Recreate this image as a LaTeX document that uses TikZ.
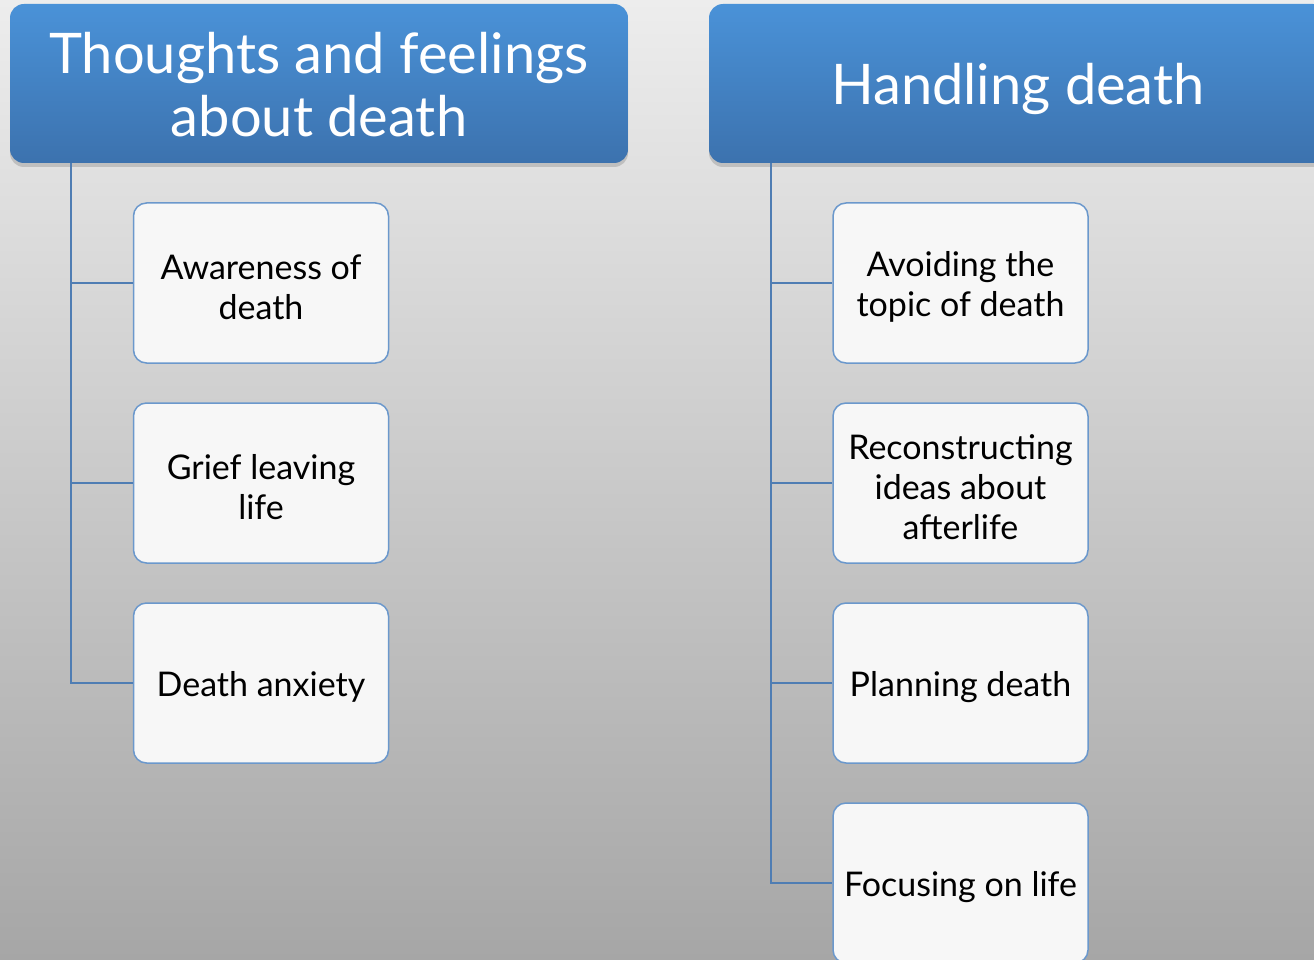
\documentclass[tikz,border=0pt]{standalone}
\usepackage{fontspec}
\setmainfont{Lato}
\usetikzlibrary{shadows}
\definecolor{hdtop}{HTML}{4A92D8}
\definecolor{hdbot}{HTML}{3C72AE}
\definecolor{bxborder}{HTML}{6B98CC}
\definecolor{lnc}{HTML}{4F7DB3}
\definecolor{bgtop}{HTML}{EDEDED}
\definecolor{bgbot}{HTML}{A6A6A6}
\definecolor{bxfill}{HTML}{F7F7F7}
\tikzset{
  header/.style={rounded corners=14pt, top color=hdtop, bottom color=hdbot, draw=none,
    minimum width=618pt, minimum height=159pt, inner sep=0pt,
    drop shadow={opacity=0.35, shadow xshift=0pt, shadow yshift=-4pt}},
  htext/.style={text=white, align=center, font=\fontsize{56}{63}\selectfont, inner sep=0pt},
  item/.style={rounded corners=13pt, draw=bxborder, line width=1.5pt, fill=bxfill,
    minimum width=255pt, minimum height=160pt, inner sep=0pt},
  itext/.style={align=center, font=\fontsize{34}{40}\selectfont, text=black, inner sep=0pt, yshift=-4pt},
  conn/.style={draw=lnc, line width=1.6pt}
}
\begin{document}
\begin{tikzpicture}[x=1pt,y=-1pt]
\useasboundingbox (0,0) rectangle (1314,960);
\shade[top color=bgtop, bottom color=bgbot] (0,0) rectangle (1314,960);
\clip (0,0) rectangle (1314,960);
% left column
\node[header, label={[htext, yshift=-1pt]center:Thoughts and feelings\\about death}] (h1) at (319,83.5) {};
\node[item, label={[itext]center:Awareness of\\death}] (a1) at (261,283) {};
\node[item, label={[itext]center:Grief leaving\\life}] (a2) at (261,483) {};
\node[item, label={[itext]center:Death anxiety}] (a3) at (261,683) {};
\coordinate (t1) at (71,163);
\draw[conn] (t1) |- (a3.west);
\draw[conn] (a1.west) -- (a1.west -| t1);
\draw[conn] (a2.west) -- (a2.west -| t1);
% right column
\node[header, label={[htext, yshift=-5pt]center:Handling death}] (h2) at (1018,83.5) {};
\node[item, label={[itext]center:Avoiding the\\topic of death}] (b1) at (960.5,283) {};
\node[item, label={[itext]center:Reconstructing\\ideas about\\afterlife}] (b2) at (960.5,483) {};
\node[item, label={[itext]center:Planning death}] (b3) at (960.5,683) {};
\node[item, label={[itext]center:Focusing on life}] (b4) at (960.5,883) {};
\coordinate (t2) at (771,163);
\draw[conn] (t2) |- (b4.west);
\draw[conn] (b1.west) -- (b1.west -| t2);
\draw[conn] (b2.west) -- (b2.west -| t2);
\draw[conn] (b3.west) -- (b3.west -| t2);
\end{tikzpicture}
\end{document}
